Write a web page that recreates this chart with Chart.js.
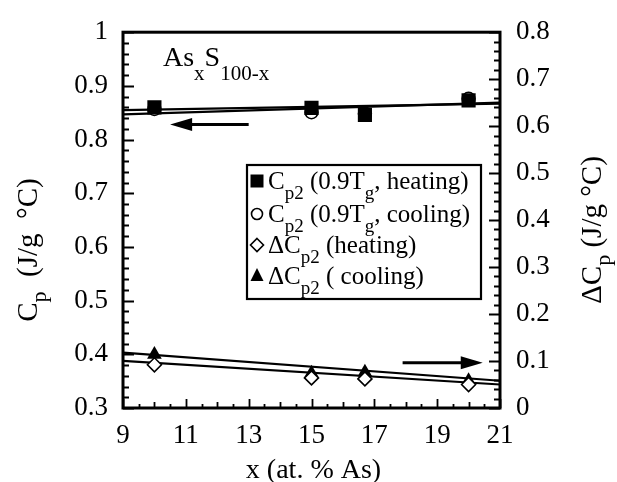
<!DOCTYPE html>
<html>
<head>
<meta charset="utf-8">
<title>AsxS100-x heat capacity</title>
<script src="https://cdn.jsdelivr.net/npm/chart.js"></script>
<style>
  html, body { margin: 0; padding: 0; background: #fff; }
  canvas { display: block; }
</style>
</head>
<body>
<canvas id="cp" width="617" height="482"></canvas>
<script>
// x = at. % As
var compositions = [10, 15, 16.7, 20];
// Cp2 at 0.9 Tg (left axis, J/g °C)
var cpHeating = [0.860, 0.859, 0.846, 0.873];
var cpCooling = [0.857, 0.851, 0.848, 0.876];
// Delta Cp2 (right axis, J/g °C)
var dcpHeating = [0.092, 0.064, 0.062, 0.050];
var dcpCooling = [0.114, 0.074, 0.076, 0.058];
// linear fits, end points at x = 9 and 21
var fitX = [9, 21];
var cpHeatingFit = [0.855, 0.867];
var cpCoolingFit = [0.847, 0.869];
var dcpHeatingFit = [0.1005, 0.050];
var dcpCoolingFit = [0.118, 0.058];
// ticks
var xTicks = [9, 11, 13, 15, 17, 19, 21];
var cpTicks = [0.3, 0.4, 0.5, 0.6, 0.7, 0.8, 0.9, 1];
var cpTickLabels = ['0.3', '0.4', '0.5', '0.6', '0.7', '0.8', '0.9', '1'];
var dcpTicks = [0, 0.1, 0.2, 0.3, 0.4, 0.5, 0.6, 0.7, 0.8];
var dcpTickLabels = ['0', '0.1', '0.2', '0.3', '0.4', '0.5', '0.6', '0.7', '0.8'];

var SERIF = '"Liberation Serif"';

function points(xs, ys) {
  return xs.map(function (x, i) { return { x: x, y: ys[i] }; });
}

// text runs like [['C'], ['p', 'sub'], [' (J/g °C)']], drawn from a baseline
function richWidth(ctx, parts, size, subSize) {
  var w = 0;
  parts.forEach(function (p) {
    ctx.font = (p[1] === 'sub' ? subSize : size) + 'px ' + SERIF;
    w += ctx.measureText(p[0]).width;
  });
  return w;
}
function drawRich(ctx, x, y, parts, size, subSize, subDrop) {
  ctx.textAlign = 'left';
  ctx.textBaseline = 'alphabetic';
  ctx.fillStyle = '#000';
  parts.forEach(function (p) {
    var sub = p[1] === 'sub';
    ctx.font = (sub ? subSize : size) + 'px ' + SERIF;
    ctx.fillText(p[0], x, sub ? y + subDrop : y);
    x += ctx.measureText(p[0]).width;
  });
}

function marker(ctx, style, x, y) {
  ctx.save();
  ctx.lineWidth = 1.6;
  ctx.strokeStyle = '#000';
  ctx.beginPath();
  if (style === 'rect') {
    ctx.rect(x - 6.5, y - 6.5, 13, 13);
    ctx.fillStyle = '#000'; ctx.fill();
  } else if (style === 'circle') {
    ctx.arc(x, y, 5.5, 0, Math.PI * 2);
    ctx.fillStyle = '#fff'; ctx.fill(); ctx.stroke();
  } else if (style === 'diamond') {
    ctx.moveTo(x, y - 6.5); ctx.lineTo(x + 6.5, y); ctx.lineTo(x, y + 6.5); ctx.lineTo(x - 6.5, y);
    ctx.closePath();
    ctx.fillStyle = '#fff'; ctx.fill(); ctx.stroke();
  } else {
    ctx.moveTo(x, y - 8); ctx.lineTo(x + 6.5, y + 5); ctx.lineTo(x - 6.5, y + 5);
    ctx.closePath();
    ctx.fillStyle = '#000'; ctx.fill();
  }
  ctx.restore();
}

function arrow(ctx, x1, x2, y) {
  var dir = x2 > x1 ? 1 : -1;
  ctx.save();
  ctx.strokeStyle = '#000';
  ctx.fillStyle = '#000';
  ctx.lineWidth = 3;
  ctx.beginPath();
  ctx.moveTo(x1, y);
  ctx.lineTo(x2 - dir * 18, y);
  ctx.stroke();
  ctx.beginPath();
  ctx.moveTo(x2, y);
  ctx.lineTo(x2 - dir * 22, y - 6.5);
  ctx.lineTo(x2 - dir * 22, y + 6.5);
  ctx.closePath();
  ctx.fill();
  ctx.restore();
}

var decorations = {
  id: 'decorations',
  beforeDatasetsDraw: function (chart) {
    var ctx = chart.ctx, a = chart.chartArea;
    var sx = chart.scales.x, sy = chart.scales.y, sy1 = chart.scales.y1;
    ctx.save();
    ctx.strokeStyle = '#000';
    ctx.lineWidth = 1.8;
    ctx.beginPath();
    var v, p, len;
    // bottom ticks, every 0.5
    for (v = 9; v <= 21.001; v += 0.5) {
      p = Math.round(sx.getPixelForValue(v)) + 0.5;
      len = (Math.abs((v - 9) % 2) < 0.01) ? 9 : (Math.abs(v % 1) < 0.01 ? 6 : 4);
      ctx.moveTo(p, a.bottom); ctx.lineTo(p, a.bottom - len);
    }
    // left ticks, every 0.02
    for (v = 0; v <= 35; v++) {
      p = Math.round(sy.getPixelForValue(0.3 + v * 0.02)) + 0.5;
      len = v % 5 === 0 ? 11 : 6;
      ctx.moveTo(a.left, p); ctx.lineTo(a.left + len, p);
    }
    // right ticks, every 0.02
    for (v = 0; v <= 40; v++) {
      p = Math.round(sy1.getPixelForValue(v * 0.02)) + 0.5;
      len = v % 5 === 0 ? 11 : 6;
      ctx.moveTo(a.right, p); ctx.lineTo(a.right - len, p);
    }
    ctx.stroke();
    ctx.lineWidth = 3;
    ctx.strokeRect(a.left, a.top, a.right - a.left, a.bottom - a.top);
    ctx.restore();
  },
  afterDraw: function (chart) {
    var ctx = chart.ctx, a = chart.chartArea;
    var sx = chart.scales.x, sy = chart.scales.y, sy1 = chart.scales.y1;
    ctx.save();

    // arrows pointing at the axis each group belongs to
    arrow(ctx, sx.getPixelForValue(13), sx.getPixelForValue(10.5), sy.getPixelForValue(0.828));
    arrow(ctx, sx.getPixelForValue(17.9), sx.getPixelForValue(20.45), sy1.getPixelForValue(0.0963));

    // sample label
    drawRich(ctx, 163, 66, [['As'], ['x', 'sub'], ['S'], ['100-x', 'sub']], 28, 21, 14);

    // legend box
    ctx.fillStyle = '#fff';
    ctx.fillRect(247, 165, 234, 134);
    ctx.strokeStyle = '#000';
    ctx.lineWidth = 2.2;
    ctx.strokeRect(247, 165, 234, 134);
    var rows = [
      ['rect', 189, [['C'], ['p2', 'sub'], [' (0.9T'], ['g', 'sub'], [', heating)']]],
      ['circle', 222, [['C'], ['p2', 'sub'], [' (0.9T'], ['g', 'sub'], [', cooling)']]],
      ['diamond', 253, [['\u0394C'], ['p2', 'sub'], [' (heating)']]],
      ['triangle', 284, [['\u0394C'], ['p2', 'sub'], [' ( cooling)']]]
    ];
    rows.forEach(function (r) {
      marker(ctx, r[0], 257, r[1] - 8);
      drawRich(ctx, 268, r[1], r[2], 25, 19, 10);
    });

    // axis titles, read bottom to top
    var leftParts = [['C'], ['p', 'sub'], ['  (J/g  \u00B0C)']];
    var w = richWidth(ctx, leftParts, 29, 22);
    ctx.save();
    ctx.translate(37, 250);
    ctx.rotate(-Math.PI / 2);
    drawRich(ctx, -w / 2, 0, leftParts, 29, 22, 9);
    ctx.restore();

    var rightParts = [['\u0394C'], ['p', 'sub'], [' (J/g \u00B0C)']];
    w = richWidth(ctx, rightParts, 29, 22);
    ctx.save();
    ctx.translate(601, 230);
    ctx.rotate(-Math.PI / 2);
    drawRich(ctx, -w / 2, 0, rightParts, 29, 22, 9);
    ctx.restore();

    ctx.font = '28px ' + SERIF;
    ctx.textAlign = 'center';
    ctx.textBaseline = 'alphabetic';
    ctx.fillStyle = '#000';
    ctx.fillText('x (at. % As)', (a.left + a.right) / 2 + 2, 478);
    ctx.restore();
  }
};

var tickFont = { family: SERIF, size: 27 };

new Chart(document.getElementById('cp'), {
  type: 'scatter',
  data: {
    datasets: [
      {
        label: 'Cp2 (0.9Tg, heating)',
        data: points(compositions, cpHeating),
        yAxisID: 'y',
        pointStyle: 'rect', pointRadius: 10,
        backgroundColor: '#000', borderColor: '#000', borderWidth: 0,
        order: 1
      },
      {
        label: 'Cp2 (0.9Tg, cooling)',
        data: points(compositions, cpCooling),
        yAxisID: 'y',
        pointStyle: 'circle', pointRadius: 6.5,
        backgroundColor: '#fff', borderColor: '#000', borderWidth: 1.5,
        order: 2
      },
      {
        label: '\u0394Cp2 (heating)',
        data: points(compositions, dcpHeating),
        yAxisID: 'y1',
        pointStyle: 'rectRot', pointRadius: 7,
        backgroundColor: '#fff', borderColor: '#000', borderWidth: 1.6,
        order: 3
      },
      {
        label: '\u0394Cp2 ( cooling)',
        data: points(compositions, dcpCooling),
        yAxisID: 'y1',
        pointStyle: 'triangle', pointRadius: 8.5,
        backgroundColor: '#000', borderColor: '#000', borderWidth: 0,
        order: 4
      },
      {
        label: 'fit Cp heating', type: 'line',
        data: points(fitX, cpHeatingFit), yAxisID: 'y',
        borderColor: '#000', borderWidth: 2.2, pointRadius: 0, fill: false, order: 10
      },
      {
        label: 'fit Cp cooling', type: 'line',
        data: points(fitX, cpCoolingFit), yAxisID: 'y',
        borderColor: '#000', borderWidth: 2.2, pointRadius: 0, fill: false, order: 10
      },
      {
        label: 'fit dCp heating', type: 'line',
        data: points(fitX, dcpHeatingFit), yAxisID: 'y1',
        borderColor: '#000', borderWidth: 2.2, pointRadius: 0, fill: false, order: 10
      },
      {
        label: 'fit dCp cooling', type: 'line',
        data: points(fitX, dcpCoolingFit), yAxisID: 'y1',
        borderColor: '#000', borderWidth: 2.2, pointRadius: 0, fill: false, order: 10
      }
    ]
  },
  options: {
    responsive: false,
    animation: false,
    layout: { padding: { top: 26, left: 0, right: 0, bottom: 0 } },
    plugins: {
      legend: { display: false },
      tooltip: { enabled: false }
    },
    scales: {
      x: {
        type: 'linear', min: 9, max: 21,
        grid: { display: false, drawTicks: false },
        border: { display: false },
        ticks: { font: tickFont, color: '#000', padding: 12, maxRotation: 0 },
        afterBuildTicks: function (s) { s.ticks = xTicks.map(function (v) { return { value: v }; }); },
        afterFit: function (s) { s.height = 74; }
      },
      y: {
        type: 'linear', position: 'left', min: 0.3, max: 1,
        grid: { display: false, drawTicks: false },
        border: { display: false },
        ticks: {
          font: tickFont, color: '#000', padding: 15,
          callback: function (v) { var i = cpTicks.findIndex(function (t) { return Math.abs(t - v) < 1e-6; }); return i < 0 ? '' : cpTickLabels[i]; }
        },
        afterBuildTicks: function (s) { s.ticks = cpTicks.map(function (v) { return { value: v }; }); },
        afterFit: function (s) { s.width = 123; }
      },
      y1: {
        type: 'linear', position: 'right', min: 0, max: 0.8,
        grid: { display: false, drawTicks: false },
        border: { display: false },
        ticks: {
          font: tickFont, color: '#000', padding: 16,
          callback: function (v) { var i = dcpTicks.findIndex(function (t) { return Math.abs(t - v) < 1e-6; }); return i < 0 ? '' : dcpTickLabels[i]; }
        },
        afterBuildTicks: function (s) { s.ticks = dcpTicks.map(function (v) { return { value: v }; }); },
        afterFit: function (s) { s.width = 117; }
      }
    }
  },
  plugins: [decorations]
});
</script>
</body>
</html>
